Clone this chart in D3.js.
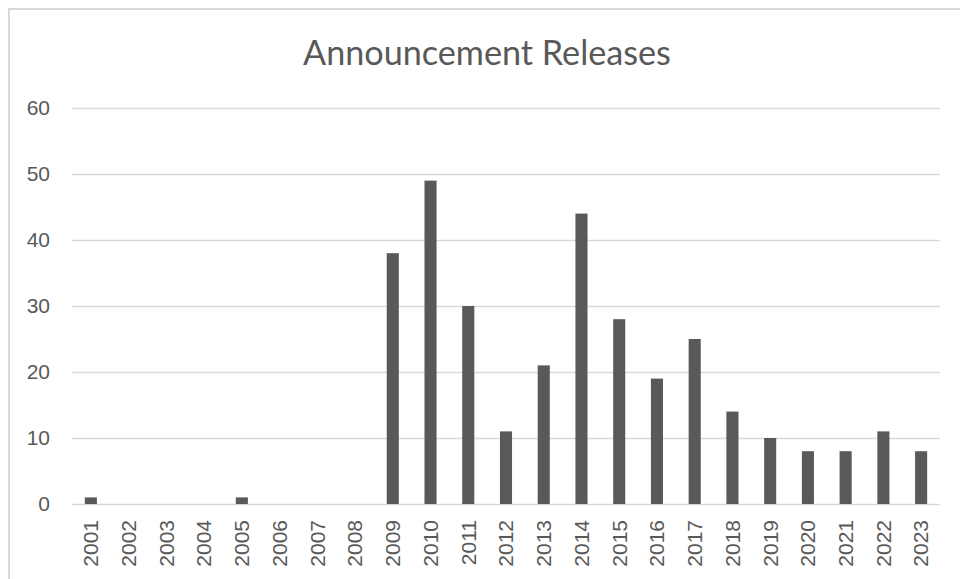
<!DOCTYPE html>
<html>
<head>
<meta charset="utf-8">
<script src="https://cdn.jsdelivr.net/npm/d3@7"></script>
<style>
  html, body { margin: 0; padding: 0; background: #ffffff; }
  svg { display: block; }
</style>
</head>
<body>
<svg id="chart" width="960" height="579"></svg>
<script>
// Announcement releases per year
const years = ["2001","2002","2003","2004","2005","2006","2007","2008","2009","2010","2011","2012",
               "2013","2014","2015","2016","2017","2018","2019","2020","2021","2022","2023"];
const releases = [1,0,0,0,1,0,0,0,38,49,30,11,21,44,28,19,25,14,10,8,8,11,8];
const yTicks = [0,10,20,30,40,50,60];
const chartTitle = "Announcement Releases";

const svg = d3.select("#chart");
const W = 960, H = 579;
const plot = { left: 72, right: 940, top: 108, bottom: 504 };
const ink = "#595959";
const gridColor = "#d9d9d9";

// outer chart frame: only the left and top edges fall inside the view
svg.append("path")
  .attr("d", `M9,${H} V9 H${W}`)
  .attr("fill", "none")
  .attr("stroke", gridColor).attr("stroke-width", 2);

const x = d3.scaleBand().domain(years).range([plot.left, plot.right]).paddingInner(0.68).paddingOuter(0.34);
const y = d3.scaleLinear().domain([0, 60]).range([plot.bottom, plot.top]);

// horizontal gridlines + y labels
const yAxis = d3.axisLeft(y).tickValues(yTicks).tickSize(-(plot.right - plot.left)).tickPadding(22);
const gy = svg.append("g").attr("transform", `translate(${plot.left},0)`).call(yAxis);
gy.select(".domain").remove();
gy.selectAll(".tick line").attr("stroke", gridColor).attr("stroke-width", 1.5);
gy.selectAll(".tick text")
  .attr("fill", ink)
  .style("font-family", "'Liberation Sans', Arial, sans-serif")
  .style("font-size", "21px");

// bars
svg.append("g").selectAll("rect")
  .data(releases)
  .join("rect")
  .attr("x", (d, i) => x(years[i]))
  .attr("y", d => y(d))
  .attr("width", x.bandwidth())
  .attr("height", d => y(0) - y(d))
  .attr("fill", ink);

// x axis labels, rotated
const xAxis = d3.axisBottom(x).tickSize(0).tickPadding(0);
const gx = svg.append("g").attr("transform", `translate(0,${plot.bottom})`).call(xAxis);
gx.select(".domain").remove();
gx.selectAll(".tick text")
  .attr("fill", ink)
  .style("font-family", "'Liberation Sans', Arial, sans-serif")
  .style("font-size", "21px")
  .attr("text-anchor", "end")
  .attr("dy", "0.35em")
  .attr("transform", "translate(0,16) rotate(-90)");

// title
const title = svg.append("text")
  .attr("x", 487).attr("y", 65)
  .attr("text-anchor", "middle")
  .attr("fill", ink)
  .style("font-family", "Lato, 'Open Sans', sans-serif")
  .style("font-weight", 400)
  .style("font-size", "30px")
  .text(chartTitle);
// fit the title to its intended width
const tw = title.node().getComputedTextLength();
title.style("font-size", (30 * 368 / tw).toFixed(2) + "px");
</script>
</body>
</html>
